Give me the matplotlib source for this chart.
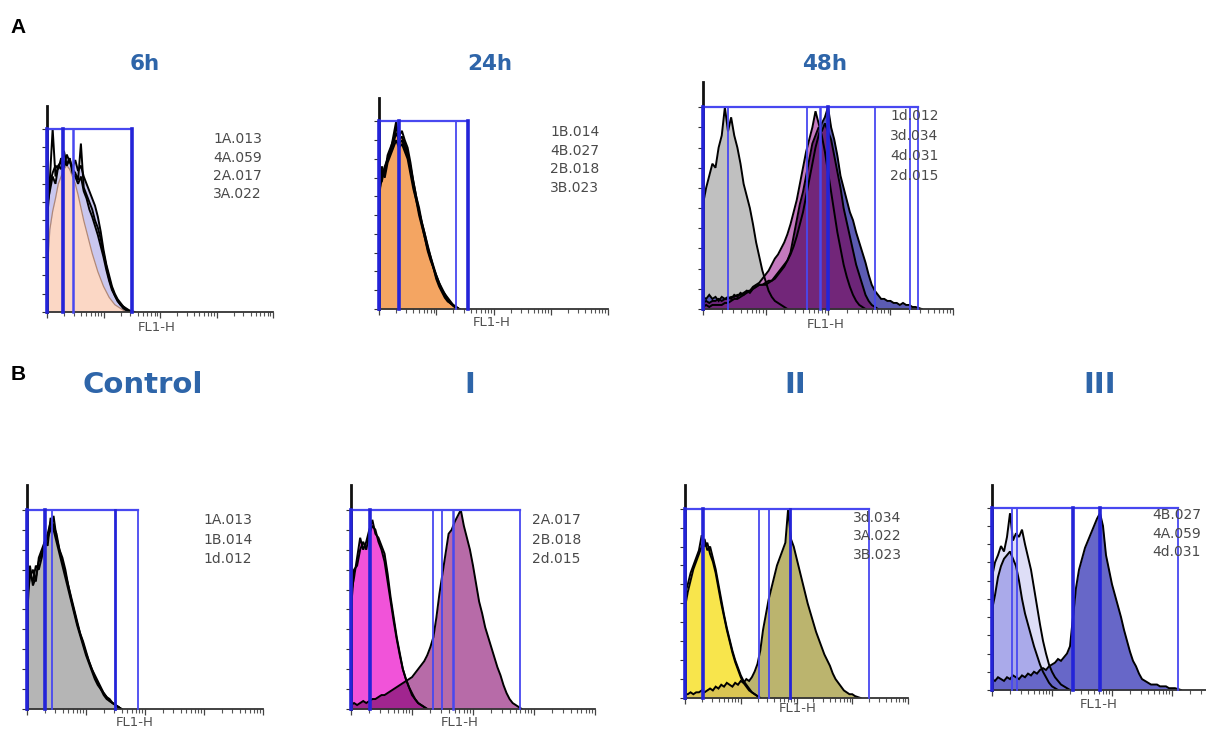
import numpy as np
import matplotlib
matplotlib.use('Agg')
import matplotlib.pyplot as plt

W, H = 1206, 731
STEP = 0.05  # histogram bin width, in decades of FL1-H (bins start at 10^0)

# ---------------- DATA (relative counts, gate top = 1.0) ----------------
# Panel A - 6h
A1_1A = [0.20,0.45,0.55,0.62,0.70,0.74,0.78,0.80,0.78,0.74,0.70,0.64,0.57,0.50,0.44,0.38,0.32,0.27,0.22,0.18,0.14,0.11,0.08,0.06,0.04,0.03,0.02,0.01]
A1_4A = [0.58,0.66,0.74,0.70,0.80,0.82,0.79,0.86,0.82,0.79,0.83,0.77,0.80,0.74,0.70,0.66,0.62,0.58,0.52,0.44,0.34,0.26,0.20,0.14,0.10,0.07,0.05,0.03,0.02,0.01,0.005]
A1_2A = [0.50,0.70,0.76,0.80,0.78,0.84,0.82,0.80,0.84,0.76,0.74,0.70,0.74,0.66,0.62,0.56,0.52,0.47,0.42,0.36,0.30,0.23,0.17,0.12,0.09,0.06,0.04,0.02,0.01,0.005]
A1_3A = [0.62,0.72,1.00,0.74,0.80,0.78,0.88,0.80,0.84,0.78,0.76,0.72,0.92,0.68,0.64,0.60,0.56,0.50,0.46,0.40,0.32,0.25,0.18,0.13,0.09,0.06,0.04,0.03,0.015,0.005]
A1_gates = [0.0, 0.28, 0.46, 1.50]
A1_labels = ["1A.013", "4A.059", "2A.017", "3A.022"]

# Panel A - 24h
A2_1B = [0.62,0.70,0.74,0.80,0.84,0.88,0.94,0.90,0.92,0.88,0.84,0.74,0.66,0.58,0.50,0.44,0.38,0.32,0.27,0.22,0.17,0.13,0.10,0.07,0.05,0.03,0.02,0.01]
A2_4B = [0.70,0.76,0.72,0.82,0.86,0.90,0.97,0.92,0.95,0.90,0.86,0.78,0.68,0.60,0.52,0.46,0.40,0.33,0.28,0.22,0.18,0.14,0.10,0.08,0.05,0.03,0.02,0.01]
A2_2B = [0.58,0.74,0.70,0.78,0.82,0.86,0.90,0.86,0.88,0.84,0.80,0.72,0.64,0.58,0.52,0.45,0.38,0.31,0.26,0.22,0.16,0.12,0.09,0.06,0.04,0.03,0.015,0.005]
A2_3B = [0.66,0.68,0.76,0.80,0.84,0.92,1.00,0.88,0.90,0.86,0.82,0.76,0.68,0.60,0.54,0.46,0.40,0.34,0.28,0.23,0.18,0.14,0.11,0.08,0.06,0.04,0.02,0.01]
A2_gates = [0.0, 0.35, 1.35, 1.55]
A2_labels = ["1B.014", "4B.027", "2B.018", "3B.023"]

# Panel A - 48h
A3_1d = [0.52,0.60,0.66,0.72,0.70,0.80,0.86,1.00,0.88,0.95,0.86,0.80,0.72,0.62,0.56,0.50,0.42,0.33,0.26,0.19,0.14,0.09,0.06,0.04,0.03,0.02,0.01]
A3_4d = [0.06,0.05,0.07,0.05,0.06,0.04,0.06,0.05,0.06,0.05,0.07,0.06,0.08,0.07,0.09,0.08,0.10,0.11,0.12,0.12,
         0.12,0.13,0.14,0.15,0.17,0.19,0.21,0.24,0.27,0.31,0.36,0.42,0.48,0.56,0.64,0.72,0.80,0.86,0.92,0.95,
         1.00,0.90,0.84,0.76,0.66,0.60,0.54,0.48,0.44,0.38,0.33,0.28,0.23,0.17,0.12,0.09,0.07,0.05,0.05,0.04,
         0.04,0.03,0.03,0.02,0.03,0.02,0.02,0.01,0.01,0.005]
A3_2d = [0.01,0.02,0.01,0.02,0.02,0.02,0.02,0.03,0.03,0.04,0.05,0.05,0.06,0.07,0.08,0.09,0.11,0.12,0.13,0.15,
         0.17,0.19,0.22,0.25,0.27,0.30,0.33,0.37,0.42,0.48,0.54,0.62,0.70,0.78,0.84,0.90,0.98,0.92,0.86,0.78,
         0.68,0.58,0.48,0.38,0.30,0.22,0.16,0.11,0.07,0.04,0.02,0.01]
A3_3d = [0.03,0.04,0.03,0.04,0.04,0.05,0.04,0.05,0.05,0.06,0.06,0.07,0.07,0.08,0.09,0.09,0.10,0.11,0.12,0.12,
         0.13,0.14,0.14,0.16,0.18,0.20,0.22,0.24,0.28,0.36,0.44,0.52,0.58,0.66,0.74,0.82,0.86,0.90,0.88,0.92,
         0.88,0.84,0.76,0.68,0.60,0.50,0.43,0.36,0.29,0.22,0.17,0.12,0.07,0.04,0.02,0.01]
A3_gates = [0.0, 0.40, 1.66, 1.87, 2.00, 2.75, 3.31, 3.44]
A3_labels = ["1d.012", "3d.034", "4d.031", "2d.015"]

# Panel B - Control
B1_1A = [0.45,0.72,0.62,0.66,0.74,0.78,0.82,0.86,0.90,0.97,0.86,0.80,0.74,0.68,0.62,0.56,0.50,0.44,0.38,0.33,0.28,0.24,0.20,0.16,0.13,0.10,0.08,0.06,0.05,0.03,0.02,0.01]
B1_1B = [0.55,0.66,0.70,0.64,0.76,0.80,0.84,0.88,0.94,0.90,0.84,0.78,0.72,0.66,0.60,0.54,0.48,0.42,0.37,0.32,0.27,0.23,0.19,0.15,0.12,0.10,0.07,0.05,0.04,0.03,0.02,0.01]
B1_1d = [0.60,0.68,0.64,0.72,0.70,0.76,0.84,0.82,0.96,0.92,0.88,0.80,0.76,0.70,0.62,0.55,0.49,0.43,0.38,0.34,0.29,0.24,0.20,0.17,0.14,0.11,0.08,0.06,0.04,0.03,0.02,0.01]
B1_gates = [0.0, 0.31, 0.42, 1.49, 1.88]
B1_labels = ["1A.013", "1B.014", "1d.012"]

# Panel B - I
B2_2A = [0.58,0.66,0.76,0.86,0.80,0.84,0.90,0.95,0.88,0.86,0.82,0.78,0.68,0.56,0.46,0.36,0.28,0.20,0.15,0.11,0.07,0.05,0.03,0.02,0.01]
B2_2B = [0.50,0.70,0.72,0.80,0.84,0.80,0.88,0.92,0.90,0.84,0.80,0.74,0.64,0.54,0.44,0.35,0.27,0.20,0.15,0.11,0.08,0.05,0.03,0.02,0.01]
B2_2d = [0.02,0.03,0.02,0.03,0.04,0.03,0.04,0.05,0.05,0.06,0.07,0.07,0.08,0.09,0.10,0.11,0.12,0.13,0.14,0.15,
         0.16,0.18,0.20,0.22,0.24,0.27,0.31,0.36,0.46,0.58,0.68,0.78,0.88,0.90,0.94,0.97,1.00,0.92,0.86,0.80,
         0.72,0.63,0.54,0.48,0.41,0.36,0.31,0.26,0.21,0.17,0.12,0.08,0.05,0.03,0.02,0.01]
B2_gates = [0.0, 0.31, 1.34, 1.49, 1.67, 2.77]
B2_labels = ["2A.017", "2B.018", "2d.015"]

# Panel B - II
B3_3A = [0.48,0.56,0.62,0.68,0.72,0.76,0.80,0.84,0.78,0.80,0.74,0.68,0.60,0.52,0.44,0.37,0.31,0.25,0.20,0.16,0.12,0.09,0.07,0.05,0.03,0.02,0.01]
B3_3B = [0.55,0.60,0.66,0.70,0.74,0.78,0.86,0.80,0.82,0.76,0.72,0.66,0.58,0.50,0.43,0.36,0.30,0.24,0.19,0.15,0.11,0.08,0.06,0.04,0.03,0.02,0.01]
B3_3d = [0.02,0.02,0.03,0.02,0.03,0.03,0.04,0.03,0.04,0.05,0.04,0.06,0.05,0.07,0.06,0.08,0.07,0.06,0.08,0.07,
         0.09,0.08,0.10,0.09,0.11,0.14,0.18,0.25,0.36,0.44,0.52,0.58,0.64,0.70,0.74,0.78,0.82,1.00,0.84,0.80,
         0.74,0.68,0.62,0.56,0.50,0.45,0.40,0.35,0.31,0.27,0.23,0.20,0.17,0.13,0.10,0.08,0.06,0.04,0.03,0.02,
         0.02,0.01,0.005]
B3_gates = [0.0, 0.32, 1.33, 1.51, 1.88, 3.30]
B3_labels = ["3d.034", "3A.022", "3B.023"]

# Panel B - III
B4_4A = [0.62,0.70,0.74,0.79,0.76,0.84,0.97,0.82,0.86,0.84,0.88,0.80,0.73,0.66,0.56,0.46,0.36,0.27,0.20,0.14,0.10,0.07,0.05,0.03,0.02,0.01]
B4_4B = [0.44,0.52,0.62,0.68,0.72,0.74,0.76,0.72,0.68,0.60,0.50,0.42,0.36,0.30,0.24,0.19,0.14,0.10,0.07,0.04,0.02,0.01]
B4_4d = [0.06,0.05,0.07,0.06,0.05,0.07,0.06,0.08,0.07,0.06,0.08,0.07,0.09,0.08,0.10,0.09,0.11,0.12,0.11,0.13,
         0.14,0.15,0.17,0.16,0.18,0.20,0.24,0.40,0.56,0.66,0.72,0.78,0.82,0.86,0.90,0.94,0.97,0.90,0.74,0.66,
         0.58,0.52,0.46,0.40,0.33,0.27,0.21,0.16,0.13,0.09,0.06,0.05,0.04,0.03,0.03,0.03,0.02,0.02,0.02,0.01,
         0.01,0.01,0.005]
B4_gates = [0.0, 0.33, 0.42, 1.35, 1.80, 3.10]
B4_labels = ["4B.027", "4A.059", "4d.031"]

# ---------------- STYLE / LAYOUT ----------------
THICK, THIN = 2.6, 1.3
GATE_DARK, GATE_LIGHT = '#2424d8', '#4848f0'
TITLE_C = '#2e65a9'

fig = plt.figure(figsize=(W / 100, H / 100), dpi=100)


def fx(x):
    return x / W


def fy(y):
    return 1 - y / H


def padded(h):
    return np.concatenate([np.asarray(h, float), [0.0]])


def xs_for(h):
    return 10 ** (STEP * np.arange(len(h)))


def draw_fill(ax, h, color, alpha=1.0, z=1):
    hp = padded(h)
    ax.fill_between(xs_for(hp), hp, color=color, alpha=alpha, lw=0, zorder=z)


def draw_line(ax, h, color='black', lw=1.4, z=1.6):
    hp = padded(h)
    ax.plot(xs_for(hp), hp, color=color, lw=lw, zorder=z, solid_joinstyle='miter')


def overlap(a, b):
    n = max(len(a), len(b))
    aa = np.zeros(n); bb = np.zeros(n)
    aa[:len(a)] = a; bb[:len(b)] = b
    return np.minimum(aa, bb)


def make_axes(rect):
    l, b, r, t = rect
    ax = fig.add_axes([fx(l), fy(b), (r - l) / W, (b - t) / H])
    ax.set_xscale('log')
    ax.set_xlim(1, 1e4)
    ax.set_ylim(0, 1.125)
    for s in ('top', 'right'):
        ax.spines[s].set_visible(False)
    ax.spines['left'].set_linewidth(2.0)
    ax.spines['left'].set_color('#111111')
    ax.spines['bottom'].set_linewidth(1.3)
    ax.spines['bottom'].set_color('#333333')
    ax.set_yticks(np.arange(0, 1.01, 0.1))
    ax.tick_params(axis='y', direction='out', length=3.5, width=0.8, color='#333333', labelleft=False)
    ax.tick_params(axis='x', which='major', direction='out', length=4, width=0.9, color='#444444', labelbottom=False)
    ax.tick_params(axis='x', which='minor', direction='out', length=3, width=0.8, color='#555555', labelbottom=False)
    ax.patch.set_alpha(0)
    return ax


def draw_gates(ax, gates, widths):
    right = 10 ** max(gates)
    ax.plot([1, right], [1.0, 1.0], color=GATE_LIGHT, lw=1.6, zorder=3, clip_on=False)
    for g, w in zip(gates, widths):
        col = GATE_DARK if w >= 2 else GATE_LIGHT
        ax.plot([10 ** g, 10 ** g], [0, 1.0], color=col, lw=w, zorder=3, clip_on=False)


def labels(lst, x, y0, dy):
    for i, s in enumerate(lst):
        fig.text(fx(x), fy(y0 + i * dy), s, fontsize=10, color='#4a4a4a', ha='left', va='baseline',
                 family='DejaVu Sans')


def fl1(x, y):
    fig.text(fx(x), fy(y), 'FL1-H', fontsize=9.5, color='#505050', ha='center', va='center',
             family='DejaVu Sans')


# ---- A: 6h ----
ax = make_axes((47, 312, 273, 106))
draw_fill(ax, A1_4A, '#c9c7ef')
draw_fill(ax, A1_1A, '#fbd7c5', z=1.1)
draw_line(ax, A1_1A, color='#b08878', lw=0.9)
for h in (A1_4A, A1_2A, A1_3A):
    draw_line(ax, h)
draw_gates(ax, A1_gates, [THICK, THICK, 1.8, THICK])
labels(A1_labels, 213, 143, 18.5)
fl1(157, 327)

# ---- A: 24h ----
ax = make_axes((379, 309, 608, 98))
draw_fill(ax, A2_1B, '#f4a562')
for h in (A2_1B, A2_4B, A2_2B, A2_3B):
    draw_line(ax, h)
draw_gates(ax, A2_gates, [THICK, THICK, THIN, THICK])
labels(A2_labels, 550, 136, 18.6)
fl1(492, 322)

# ---- A: 48h ----
ax = make_axes((703, 309, 953, 82))
draw_fill(ax, A3_1d, '#c0c0c0')
draw_fill(ax, A3_4d, '#5b5bb2', z=1.1)
draw_fill(ax, A3_2d, '#c57abf', z=1.2)
draw_fill(ax, A3_3d, '#6e2275', alpha=0.95, z=1.3)
for h in (A3_1d, A3_4d, A3_2d, A3_3d):
    draw_line(ax, h)
draw_gates(ax, A3_gates, [THICK, THIN, THIN, 1.8, THICK, THIN, THIN, THIN])
labels(A3_labels, 890, 120, 20)
fl1(826, 325)

# ---- B: Control ----
ax = make_axes((27, 709, 263, 485))
draw_fill(ax, B1_1A, '#b5b5b5')
for h in (B1_1A, B1_1B, B1_1d):
    draw_line(ax, h)
draw_gates(ax, B1_gates, [THICK, THICK, THIN, 2.0, THIN])
labels(B1_labels, 203, 524, 19.5)
fl1(135, 722)

# ---- B: I ----
ax = make_axes((351, 709, 595, 485))
draw_fill(ax, B2_2A, '#f153d9')
draw_fill(ax, B2_2d, '#b76ba8', z=1.1)
draw_fill(ax, overlap(B2_2A, B2_2d), '#a1258f', z=1.2)
for h in (B2_2A, B2_2B, B2_2d):
    draw_line(ax, h)
draw_gates(ax, B2_gates, [THICK, THICK, THIN, THIN, 1.8, THIN])
labels(B2_labels, 532, 524, 19.5)
fl1(460, 722)

# ---- B: II ----
ax = make_axes((685, 698, 908, 485))
draw_fill(ax, B3_3A, '#f8e54c')
draw_fill(ax, B3_3d, '#bbb46e', z=1.1)
draw_fill(ax, overlap(B3_3A, B3_3d), '#d9c452', z=1.2)
for h in (B3_3A, B3_3B, B3_3d):
    draw_line(ax, h)
draw_gates(ax, B3_gates, [THICK, THICK, THIN, THIN, 2.0, THIN])
labels(B3_labels, 853, 522, 18.5)
fl1(798, 708)

# ---- B: III ----
ax = make_axes((992, 690, 1232, 485))
draw_fill(ax, B4_4A, '#dedef7')
draw_fill(ax, B4_4B, '#aaaaea', z=1.1)
draw_fill(ax, B4_4d, '#6767c8', z=1.2)
for h in (B4_4A, B4_4B, B4_4d):
    draw_line(ax, h)
draw_gates(ax, B4_gates, [THICK, THIN, THIN, THICK, THICK, THIN])
labels(B4_labels, 1152, 519, 18.5)
fl1(1099, 705)

# ---------------- TITLES ----------------
fig.text(fx(18), fy(33), 'A', fontsize=15, fontweight='bold', family='Liberation Sans',
         ha='center', va='baseline', color='black')
fig.text(fx(18), fy(380), 'B', fontsize=15, fontweight='bold', family='Liberation Sans',
         ha='center', va='baseline', color='black')
for s, x in (('6h', 145), ('24h', 490), ('48h', 825)):
    fig.text(fx(x), fy(70), s, fontsize=15.5, fontweight='bold', color=TITLE_C,
             ha='center', va='baseline', family='DejaVu Sans')
for s, x in (('Control', 143), ('I', 470), ('II', 795), ('III', 1100)):
    fig.text(fx(x), fy(393), s, fontsize=21, fontweight='bold', color=TITLE_C,
             ha='center', va='baseline', family='DejaVu Sans')

fig.savefig('out.png', dpi=100)
